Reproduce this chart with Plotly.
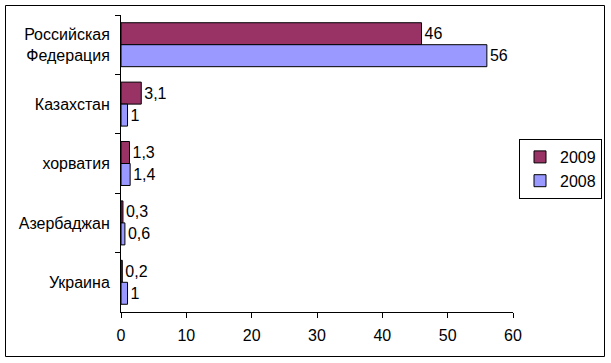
import plotly.graph_objects as go

categories = ["Российская<br>Федерация", "Казахстан", "хорватия", "Азербаджан", "Украина"]
values_2009 = [46, 3.1, 1.3, 0.3, 0.2]
values_2008 = [56, 1, 1.4, 0.6, 1]
labels_2009 = ["46", "3,1", "1,3", "0,3", "0,2"]
labels_2008 = ["56", "1", "1,4", "0,6", "1"]
x_ticks = [0, 10, 20, 30, 40, 50, 60]

FONT = "Arial, Liberation Sans, sans-serif"
FS = 16

fig = go.Figure()
fig.add_trace(go.Bar(
    y=categories, x=values_2009, orientation="h", name="2009",
    marker=dict(color="#993366", line=dict(color="black", width=1)),
    text=labels_2009, textposition="outside", cliponaxis=False, constraintext="none",
    textfont=dict(family=FONT, size=FS, color="black"),
))
fig.add_trace(go.Bar(
    y=categories, x=values_2008, orientation="h", name="2008",
    marker=dict(color="#9999FF", line=dict(color="black", width=1)),
    text=labels_2008, textposition="outside", cliponaxis=False, constraintext="none",
    textfont=dict(family=FONT, size=FS, color="black"),
))

W, H = 611, 363
L, R, T, B = 121, 513, 15, 312
pw, ph = R - L, B - T

def px(x):
    return (x - L) / pw

def py(y):
    return (B - y) / ph

fig.update_layout(
    width=W, height=H,
    margin=dict(l=L, r=W - R, t=T, b=H - B, autoexpand=False),
    barmode="group", bargap=0.26, bargroupgap=0,
    plot_bgcolor="white", paper_bgcolor="white",
    font=dict(family=FONT, size=FS, color="black"),
    showlegend=True,
    legend=dict(
        x=px(602), y=py(139), xanchor="right", yanchor="top",
        bordercolor="black", borderwidth=1, bgcolor="white",
        font=dict(family=FONT, size=FS, color="black"),
        traceorder="normal",
    ),
    xaxis=dict(
        range=[0, 60], tickvals=x_ticks, ticktext=[str(v) for v in x_ticks],
        showgrid=False, zeroline=False, showline=True, linecolor="black", linewidth=1,
        ticks="outside", ticklen=5, tickcolor="black", automargin=False,
        ticklabelstandoff=4,
        tickfont=dict(family=FONT, size=FS, color="black"),
        fixedrange=True,
    ),
    yaxis=dict(
        autorange="reversed", type="category",
        showgrid=False, zeroline=False, showline=True, linecolor="black", linewidth=1,
        ticks="outside", ticklen=5, tickcolor="black", tickson="boundaries", automargin=False,
        ticklabelstandoff=7,
        tickfont=dict(family=FONT, size=FS, color="black"),
        fixedrange=True,
    ),
    shapes=[dict(
        type="rect", xref="paper", yref="paper",
        x0=px(5.5), x1=px(604.5), y0=py(356.5), y1=py(5.5),
        line=dict(color="black", width=1), fillcolor="rgba(0,0,0,0)", layer="above",
    )],
)

fig.write_html(
    "out.html",
    config={"displayModeBar": False},
    post_script="document.body.style.margin='0px';document.body.style.padding='0px';",
)
